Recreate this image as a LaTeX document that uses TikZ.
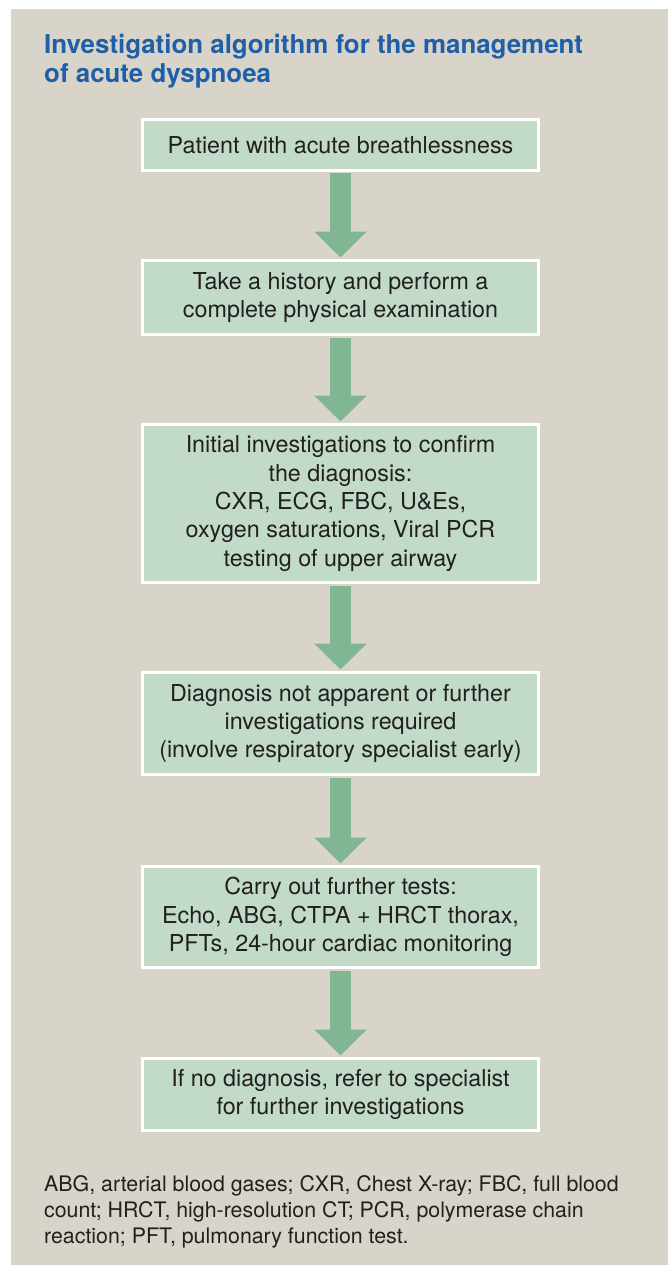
\documentclass[tikz,border=0pt]{standalone}
\usepackage{fontspec}
\setmainfont{TeX Gyre Heros}
\usetikzlibrary{arrows.meta,calc}
\definecolor{panelbg}{HTML}{D8D4CA}
\definecolor{boxgreen}{HTML}{C2DAC8}
\definecolor{arrowgreen}{HTML}{80B792}
\definecolor{titleblue}{HTML}{1E5FA8}
\definecolor{textdark}{HTML}{221F20}
\begin{document}
\begin{tikzpicture}[x=1pt,y=-1pt,
  stepbox/.style={draw=white, line width=3pt, fill=boxgreen, minimum width=396pt,
    inner sep=0pt, align=center, text=textdark, font=\fontsize{23.3}{28.3}\selectfont},
  flow/.style={draw=arrowgreen, line width=21pt, -{Triangle[width=51pt,length=26pt]},
    shorten <=1.5pt, shorten >=1.5pt},
  titletext/.style={anchor=base west, inner sep=0pt, text=titleblue,
    font=\bfseries\fontsize{25.9}{29}\selectfont},
  notetext/.style={anchor=base west, inner sep=0pt, text=textdark,
    font=\fontsize{21.35}{26}\selectfont}]
\useasboundingbox (0,0) rectangle (668,1268);
\fill[white] (0,0) rectangle (668,1268);
\fill[panelbg] (11,9) rectangle (668,1265);

\node[titletext] (t1) at (44,54) {Investigation algorithm for the management};
\node[titletext] (t2) at (44,83) {of acute dyspnoea};

\node[stepbox, minimum height=51pt] (b1) at (340.5,145) {Patient with acute breathlessness};
\node[stepbox, minimum height=74pt] (b2) at (340.5,297.5) {Take a history and perform a\\complete physical examination};
\node[stepbox, minimum height=158pt] (b3) at (340.5,503.5) {Initial investigations to confirm\\the diagnosis:\\CXR, ECG, FBC, U\&Es,\\oxygen saturations, Viral PCR\\testing of upper airway};
\node[stepbox, minimum height=102pt] (b4) at (340.5,723.5) {Diagnosis not apparent or further\\investigations required\\(involve respiratory specialist early)};
\node[stepbox, minimum height=101pt] (b5) at (340.5,917) {Carry out further tests:\\Echo, ABG, CTPA + HRCT thorax,\\PFTs, 24-hour cardiac monitoring};
\node[stepbox, minimum height=72pt] (b6) at (340.5,1094.5) {If no diagnosis, refer to specialist\\for further investigations};

\draw[flow] (b1.south) -- (b2.north);
\draw[flow] (b2.south) -- (b3.north);
\draw[flow] (b3.south) -- (b4.north);
\draw[flow] (b4.south) -- (b5.north);
\draw[flow] (b5.south) -- (b6.north);

\node[notetext] (n1) at (44,1191) {ABG, arterial blood gases; CXR, Chest X-ray; FBC, full blood};
\node[notetext] (n2) at (44,1217) {count; HRCT, high-resolution CT; PCR, polymerase chain};
\node[notetext] (n3) at (44,1243) {reaction; PFT, pulmonary function test.};
\end{tikzpicture}
\end{document}
